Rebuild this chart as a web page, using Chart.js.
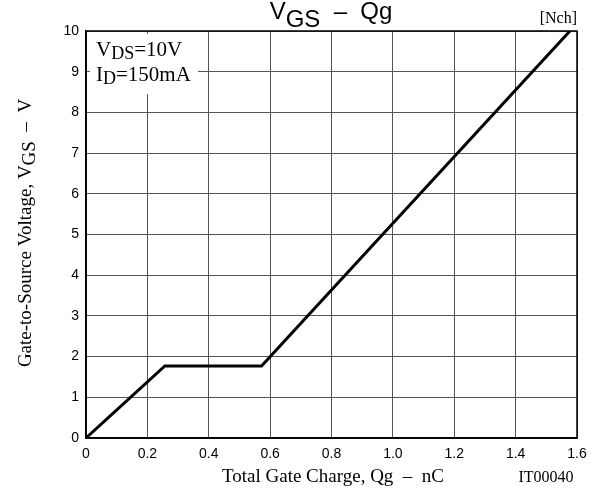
<!DOCTYPE html>
<html>
<head>
<meta charset="utf-8">
<script src="https://cdn.jsdelivr.net/npm/chart.js@4/dist/chart.umd.min.js"></script>
<style>
    body { margin: 0; background: #fff; }
    #chart { display: block; }
</style>
</head>
<body>
<canvas id="chart" width="609" height="495"></canvas>
<script>
// Data
const qg = [0, 0.257, 0.572, 1.577];
const vgs = [0, 1.77, 1.77, 10];

// Axis ticks
const xTickValues = [0, 0.2, 0.4, 0.6, 0.8, 1.0, 1.2, 1.4, 1.6];
const xTickLabels = ['0', '0.2', '0.4', '0.6', '0.8', '1.0', '1.2', '1.4', '1.6'];
const yTickValues = [0, 1, 2, 3, 4, 5, 6, 7, 8, 9, 10];

const SANS = '"Liberation Sans", Arial, sans-serif';
const SERIF = '"Liberation Serif", "Times New Roman", serif';

// draw text made of normal and subscript parts
function drawRich(ctx, parts, x, y, align) {
    ctx.textAlign = 'left';
    let total = 0;
    parts.forEach(p => {
        ctx.font = p.font;
        p.w = ctx.measureText(p.t).width;
        total += p.w;
    });
    let cx = align === 'center' ? x - total / 2 : align === 'right' ? x - total : x;
    parts.forEach(p => {
        ctx.font = p.font;
        ctx.fillText(p.t, cx, y + (p.dy || 0));
        cx += p.w;
    });
    return total;
}

const decorPlugin = {
    id: 'decor',
    afterDraw(chart) {
        const ctx = chart.ctx;
        const a = chart.chartArea;
        ctx.save();

        // frame
        ctx.strokeStyle = '#000';
        ctx.lineWidth = 1.5;
        ctx.strokeRect(a.left, a.top, a.right - a.left, a.bottom - a.top);

        ctx.fillStyle = '#000';
        ctx.textBaseline = 'alphabetic';

        // title
        drawRich(ctx, [
            { t: 'V', font: '24px ' + SANS },
            { t: 'GS', font: '24px ' + SANS, dy: 8 },
            { t: '  \u2013  ', font: '24px ' + SANS },
            { t: 'Qg', font: '24px ' + SANS }
        ], 331, 19, 'center');

        ctx.font = '16px ' + SERIF;
        ctx.textAlign = 'right';
        ctx.fillText('[Nch]', a.right, 23);

        // conditions box
        ctx.fillStyle = '#fff';
        ctx.fillRect(a.left + 4, a.top + 3, 108, 60);
        ctx.fillStyle = '#000';
        drawRich(ctx, [
            { t: 'V', font: '21px ' + SERIF },
            { t: 'DS', font: '18px ' + SERIF, dy: 3 },
            { t: '=10V', font: '21px ' + SERIF }
        ], a.left + 10, 56, 'left');
        drawRich(ctx, [
            { t: 'I', font: '21px ' + SERIF },
            { t: 'D', font: '18px ' + SERIF, dy: 3 },
            { t: '=150mA', font: '21px ' + SERIF }
        ], a.left + 10, 81, 'left');

        // x axis title
        ctx.font = '19px ' + SERIF;
        ctx.textAlign = 'center';
        ctx.fillText('Total Gate Charge, Qg  \u2013  nC', 333, 482);
        ctx.font = '16px ' + SERIF;
        ctx.fillText('IT00040', 546, 482);

        // y axis title
        ctx.translate(31, 233);
        ctx.rotate(-Math.PI / 2);
        drawRich(ctx, [
            { t: 'Gate-to-Source Voltage, V', font: '19px ' + SERIF },
            { t: 'GS', font: '19px ' + SERIF, dy: 4 },
            { t: '  \u2013  V', font: '19px ' + SERIF }
        ], 0, 0, 'center');

        ctx.restore();
    }
};

new Chart(document.getElementById('chart'), {
    type: 'line',
    data: {
        datasets: [{
            data: qg.map((q, i) => ({ x: q, y: vgs[i] })),
            borderColor: '#000',
            borderWidth: 3,
            pointRadius: 0,
            tension: 0,
            fill: false
        }]
    },
    options: {
        responsive: false,
        animation: false,
        layout: { padding: { left: 0, top: 31, right: 32, bottom: 0 } },
        plugins: {
            legend: { display: false },
            tooltip: { enabled: false }
        },
        scales: {
            x: {
                type: 'linear',
                min: 0,
                max: 1.6,
                afterBuildTicks: s => { s.ticks = xTickValues.map(v => ({ value: v })); },
                afterFit: s => { s.height = 57; },
                ticks: {
                    autoSkip: false,
                    maxRotation: 0,
                    padding: 8,
                    color: '#000',
                    font: { family: SANS, size: 14 },
                    callback: (v, i) => xTickLabels[i]
                },
                grid: { color: '#555', lineWidth: 1, drawTicks: false },
                border: { display: true, color: '#000', width: 1.5 }
            },
            y: {
                type: 'linear',
                min: 0,
                max: 10,
                afterBuildTicks: s => { s.ticks = yTickValues.map(v => ({ value: v })); },
                afterFit: s => { s.width = 86; },
                ticks: {
                    autoSkip: false,
                    padding: 7,
                    color: '#000',
                    font: { family: SANS, size: 14 }
                },
                grid: { color: '#555', lineWidth: 1, drawTicks: false },
                border: { display: true, color: '#000', width: 1.5 }
            }
        }
    },
    plugins: [decorPlugin]
});
</script>
</body>
</html>
